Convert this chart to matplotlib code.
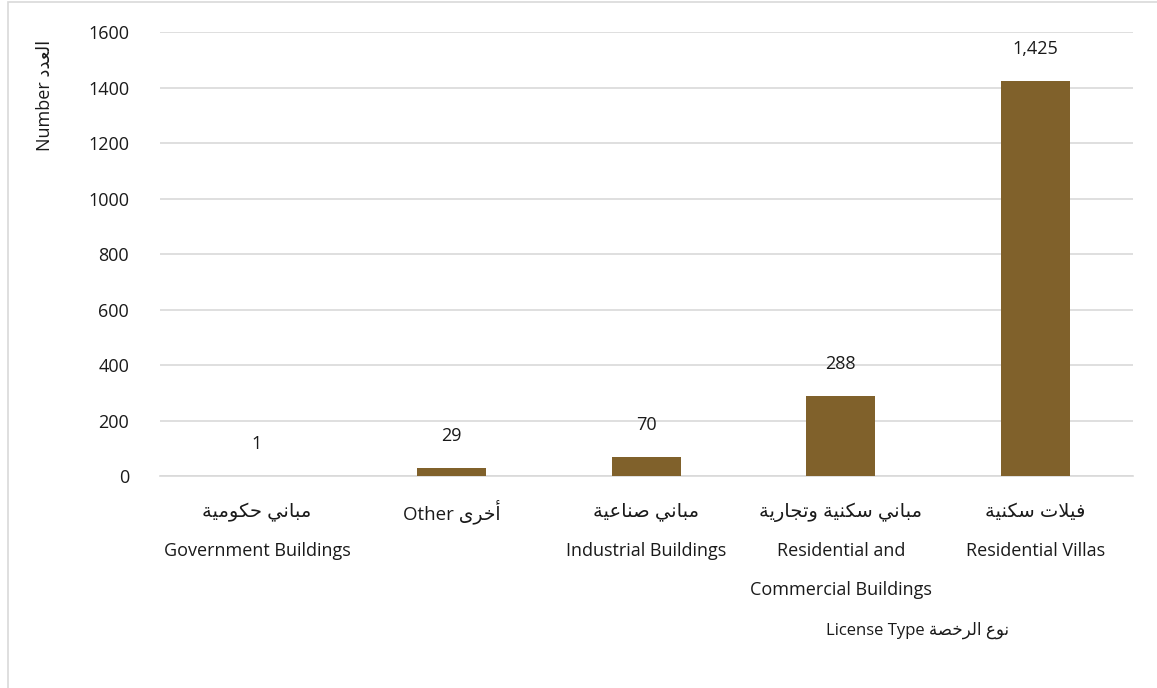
import matplotlib
matplotlib.use('Agg')
import matplotlib.pyplot as plt
from matplotlib.patches import Rectangle

# Data
categories_ar = ['مباني حكومية', 'أخرى', 'مباني صناعية', 'مباني سكنية وتجارية', 'فيلات سكنية']
categories_en = ['Government Buildings', 'Other', 'Industrial Buildings',
                 'Residential and\nCommercial Buildings', 'Residential Villas']
values = [1, 29, 70, 288, 1425]
yticks = [0, 200, 400, 600, 800, 1000, 1200, 1400, 1600]

BAR_COLOR = '#80612B'
GRID_COLOR = '#D9D9D9'
TEXT_COLOR = '#1A1A1A'
FONTS = ['Open Sans', 'DejaVu Sans']

# Arabic presentation forms: (isolated, final, initial, medial)
FORMS = {
    'ا': ('\uFE8D', '\uFE8E'), 'أ': ('\uFE83', '\uFE84'),
    'ب': ('\uFE8F', '\uFE90', '\uFE91', '\uFE92'), 'ة': ('\uFE93', '\uFE94'),
    'ت': ('\uFE95', '\uFE96', '\uFE97', '\uFE98'), 'ج': ('\uFE9D', '\uFE9E', '\uFE9F', '\uFEA0'),
    'ح': ('\uFEA1', '\uFEA2', '\uFEA3', '\uFEA4'), 'خ': ('\uFEA5', '\uFEA6', '\uFEA7', '\uFEA8'),
    'د': ('\uFEA9', '\uFEAA'), 'ر': ('\uFEAD', '\uFEAE'),
    'س': ('\uFEB1', '\uFEB2', '\uFEB3', '\uFEB4'), 'ص': ('\uFEB9', '\uFEBA', '\uFEBB', '\uFEBC'),
    'ع': ('\uFEC9', '\uFECA', '\uFECB', '\uFECC'), 'ف': ('\uFED1', '\uFED2', '\uFED3', '\uFED4'),
    'ك': ('\uFED9', '\uFEDA', '\uFEDB', '\uFEDC'), 'ل': ('\uFEDD', '\uFEDE', '\uFEDF', '\uFEE0'),
    'م': ('\uFEE1', '\uFEE2', '\uFEE3', '\uFEE4'), 'ن': ('\uFEE5', '\uFEE6', '\uFEE7', '\uFEE8'),
    'و': ('\uFEED', '\uFEEE'), 'ى': ('\uFEEF', '\uFEF0'),
    'ي': ('\uFEF1', '\uFEF2', '\uFEF3', '\uFEF4'),
}
LAM_ALEF = {'ا': ('\uFEFB', '\uFEFC'), 'أ': ('\uFEF7', '\uFEF8')}


def arabic(text):
    """Shape Arabic letters and put them in visual (left-to-right) order."""
    chars = list(text)
    out = []
    i = 0
    while i < len(chars):
        c = chars[i]
        if c not in FORMS:
            out.append(c)
            i += 1
            continue
        prev = chars[i - 1] if i > 0 else None
        joins_prev = prev in FORMS and len(FORMS[prev]) == 4
        if c == 'ل' and i + 1 < len(chars) and chars[i + 1] in LAM_ALEF:
            iso, fin = LAM_ALEF[chars[i + 1]]
            out.append(fin if joins_prev else iso)
            i += 2
            continue
        nxt = chars[i + 1] if i + 1 < len(chars) else None
        f = FORMS[c]
        joins_next = len(f) == 4 and nxt in FORMS
        if joins_prev and joins_next:
            out.append(f[3])
        elif joins_prev:
            out.append(f[1])
        elif joins_next:
            out.append(f[2])
        else:
            out.append(f[0])
        i += 1
    return ''.join(reversed(out))


fig = plt.figure(figsize=(11.57, 6.88), dpi=100)
fig.patch.set_facecolor('white')
ax = fig.add_axes([0.138, 0.308, 0.841, 0.6455])

x = list(range(len(values)))
ax.bar(x, values, width=0.355, color=BAR_COLOR, zorder=3)

ax.set_xlim(-0.5, len(values) - 0.5)
ax.set_ylim(0, 1600)
ax.set_yticks(yticks)
ax.set_yticklabels([str(v) for v in yticks], fontsize=13, color=TEXT_COLOR, family=FONTS)
ax.tick_params(axis='y', length=0, pad=22)
ax.set_xticks([])
ax.grid(axis='y', color=GRID_COLOR, linewidth=1.2, zorder=0)
for s in ['top', 'right', 'left']:
    ax.spines[s].set_visible(False)
ax.spines['bottom'].set_color(GRID_COLOR)
ax.spines['bottom'].set_linewidth(1.2)

# value labels
for xi, v in zip(x, values):
    ax.annotate(f'{v:,}', (xi, v), xytext=(0, 23), textcoords='offset points',
                ha='center', va='center', fontsize=13, color=TEXT_COLOR, family=FONTS)

# category labels
tr = ax.get_xaxis_transform()
for xi, ar, en in zip(x, categories_ar, categories_en):
    if '\n' not in en and len(en) < 8:
        ax.text(xi, -0.081, en + ' ' + arabic(ar), transform=tr, ha='center', va='center',
                fontsize=13.5, color=TEXT_COLOR, family=FONTS)
        continue
    ax.text(xi, -0.081, arabic(ar), transform=tr, ha='center', va='center',
            fontsize=14, color=TEXT_COLOR, family=FONTS)
    for k, line in enumerate(en.split('\n')):
        ax.text(xi, -0.169 - 0.088 * k, line, transform=tr, ha='center', va='center',
                fontsize=13, color=TEXT_COLOR, family=FONTS)

# axis titles
fig.text(918 / 1157, 1 - 630 / 688, 'License Type ' + arabic('نوع الرخصة'),
         ha='center', va='center', fontsize=12, color=TEXT_COLOR, family=FONTS)
fig.text(45 / 1157, 1 - 95 / 688, 'Number ' + arabic('العدد'), rotation=90,
         ha='center', va='center', fontsize=13, color=TEXT_COLOR, family=FONTS)

# light frame around the chart
fig.patches.append(Rectangle((8 / 1157, -0.01), 1.02, 1 - 2 / 688 + 0.01,
                             transform=fig.transFigure, fill=False,
                             edgecolor=GRID_COLOR, linewidth=1.2))

fig.savefig('out.png', dpi=100, facecolor='white')
